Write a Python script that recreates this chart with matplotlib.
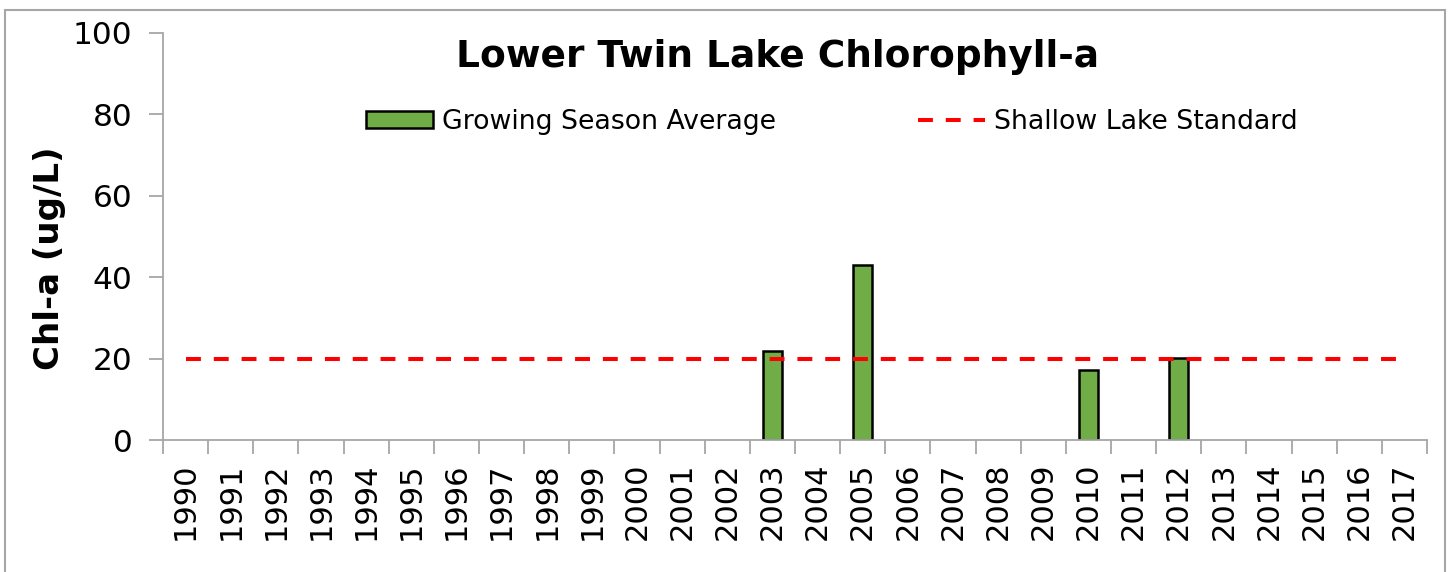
import matplotlib.pyplot as plt
import matplotlib.patches as mpatches
import numpy as np

years = list(range(1990, 2018))
bar_years = [2003, 2005, 2010, 2012]
bar_vals = [21.8, 43.0, 17.2, 20.1]
standard = 20

fig = plt.figure(figsize=(14.52, 5.72), dpi=100)
# outer chart border
fig.patches.append(mpatches.Rectangle((5/1452, -0.01), 1440/1452, 1 - 10/572 + 0.01,
                                      transform=fig.transFigure, fill=False,
                                      edgecolor='#a6a6a6', lw=1.5))

ax = fig.add_axes([163/1452, 1 - 440/572, (1427 - 163)/1452, (440 - 33)/572])

xpos = [years.index(y) for y in bar_years]
bars = ax.bar(xpos, bar_vals, width=0.41, color='#70ad47', edgecolor='black', lw=1.8,
              label='Growing Season Average', zorder=2)
line, = ax.plot([0, len(years) - 1], [standard, standard], color='#ff0000', lw=2.9,
                dashes=(3.7, 3.2), label='Shallow Lake Standard', zorder=3)

ax.set_xlim(-0.5, len(years) - 0.5)
ax.set_ylim(0, 100)
ax.set_yticks(np.arange(0, 101, 20))
ax.set_xticks(range(len(years)))
ax.set_xticklabels([str(y) for y in years], rotation=90)
ax.set_xticks(np.arange(-0.5, len(years)), minor=True)
ax.tick_params(axis='x', which='major', length=0, labelsize=22, pad=16)
ax.tick_params(axis='x', which='minor', length=10, color='#a6a6a6', width=1.3)
ax.tick_params(axis='y', length=10, color='#a6a6a6', width=1.3, labelsize=22.5, pad=12)

for s in ['top', 'right']:
    ax.spines[s].set_visible(False)
for s in ['left', 'bottom']:
    ax.spines[s].set_color('#a6a6a6')
    ax.spines[s].set_linewidth(1.3)

ax.set_ylabel('Chl-a (ug/L)', fontsize=24.5, fontweight='bold')
ax.yaxis.set_label_coords((66 - 163)/1264, (440 - 258)/407)
ax.set_title('Lower Twin Lake Chlorophyll-a', fontsize=27, fontweight='bold',
             x=(778 - 163)/(1427 - 163), y=0.895)

ax.legend([bars, line], ['Growing Season Average', 'Shallow Lake Standard'],
          loc='center', bbox_to_anchor=((832 - 163)/(1427 - 163), (440 - 122)/(440 - 33)),
          ncol=2, frameon=False, fontsize=19.3, handlelength=2.5, handleheight=0.55,
          handletextpad=0.33, columnspacing=5.3)

fig.savefig('out.png', dpi=100)
